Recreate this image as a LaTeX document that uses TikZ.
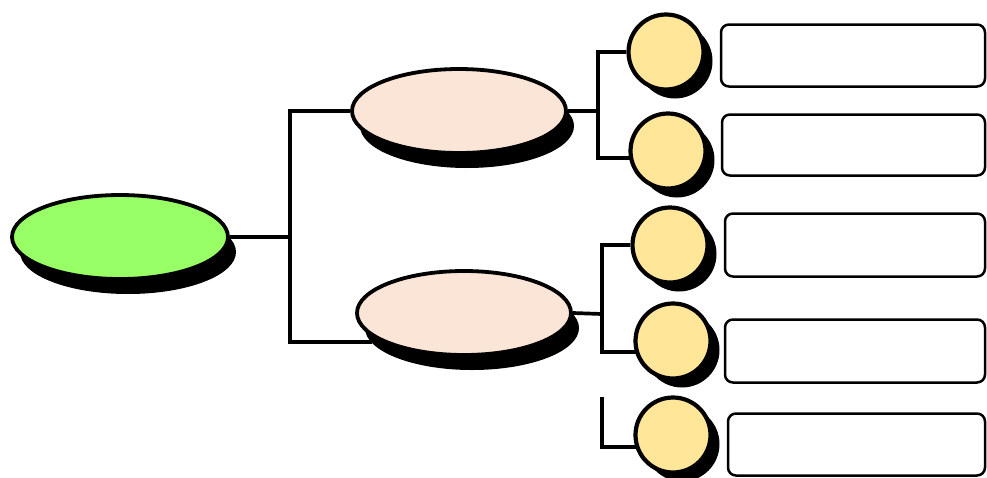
\documentclass[tikz,border=0pt]{standalone}
\usetikzlibrary{shapes.geometric,shadows,backgrounds}
\definecolor{rootgreen}{RGB}{153,255,102}
\definecolor{midpink}{RGB}{250,229,215}
\definecolor{leafyellow}{RGB}{255,230,153}
\tikzset{
  rootnode/.style={ellipse,draw=black,line width=3.8pt,fill=rootgreen,minimum width=216pt,minimum height=84pt,inner sep=0pt,
    drop shadow={shadow xshift=8pt,shadow yshift=-15pt,fill=black,opacity=1}},
  midnode/.style={ellipse,draw=black,line width=3.8pt,fill=midpink,minimum width=214pt,minimum height=84pt,inner sep=0pt,
    drop shadow={shadow xshift=8pt,shadow yshift=-15pt,fill=black,opacity=1}},
  leafnode/.style={circle,draw=black,line width=4.2pt,fill=leafyellow,minimum size=75pt,inner sep=0pt,
    drop shadow={shadow xshift=9pt,shadow yshift=-9pt,fill=black,opacity=1}},
  textbox/.style={rectangle,rounded corners=8pt,draw=black,line width=2.5pt,fill=white,inner sep=0pt},
  link/.style={draw=black,line width=3.7pt}
}
\begin{document}
\begin{tikzpicture}[x=1pt,y=-1pt]
\useasboundingbox (0,0) rectangle (987,477);
% nodes
\node[rootnode] (g) at (120,237) {};
\node[midnode] (p1) at (459,111) {};
\node[midnode] (p2) at (464,313) {};
\node[leafnode] (c1) at (666,52) {};
\node[leafnode] (c2) at (668,151) {};
\node[leafnode] (c3) at (670,245) {};
\node[leafnode] (c4) at (673,341) {};
\node[leafnode] (c5) at (673,435) {};
\node[textbox,minimum width=264pt,minimum height=62pt] (r1) at (853,55.5) {};
\node[textbox,minimum width=263pt,minimum height=61pt] (r2) at (853.5,145) {};
\node[textbox,minimum width=260pt,minimum height=63pt] (r3) at (855,245) {};
\node[textbox,minimum width=260pt,minimum height=63pt] (r4) at (855,351) {};
\node[textbox,minimum width=257pt,minimum height=62pt] (r5) at (856.5,444.5) {};
% coordinates for connector ends
\coordinate (b0) at (290,237);
\coordinate (e0) at (372,342);
\coordinate (b1) at (598,111);
\coordinate (e1) at (645,158);
\coordinate (b2) at (602,314);
\coordinate (e2) at (650,352);
\coordinate (t3) at (602,397);
\coordinate (e3) at (650,447);
\begin{pgfonlayer}{background}
\draw[link] (g.east) -- (b0);
\draw[link] (p1.west) -| (b0) |- (e0);
\draw[link] (p1.east) -- (b1);
\draw[link] (c1.west) -| (b1) |- (e1);
\draw[link] (p2.east) -- (b2);
\draw[link] (c3.west) -| (b2) |- (e2);
\draw[link] (t3) |- (e3);
\end{pgfonlayer}
\end{tikzpicture}
\end{document}
